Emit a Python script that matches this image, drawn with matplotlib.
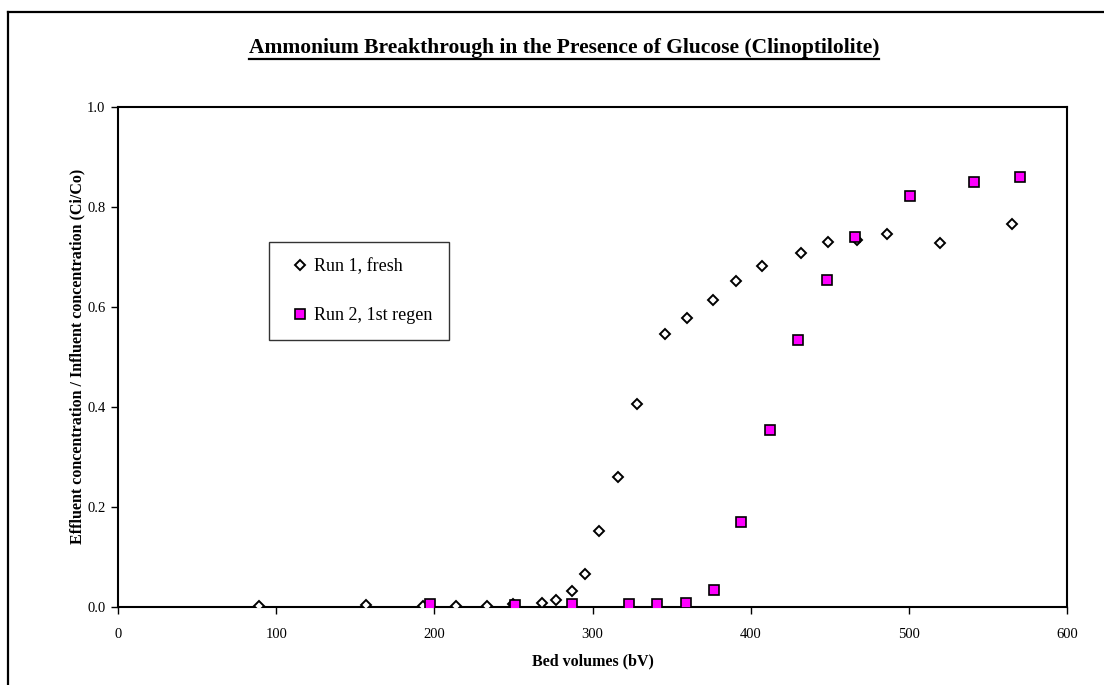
import matplotlib
matplotlib.use("Agg")
import matplotlib.pyplot as plt
from matplotlib.lines import Line2D

# ---- data ----
run1_bv = [89, 157, 193, 214, 233, 250, 268, 277, 287, 295, 304, 316, 328, 346,
           360, 376, 391, 407, 432, 449, 467, 486, 520, 565]
run1_c = [0.002, 0.004, 0.002, 0.001, 0.002, 0.005, 0.007, 0.013, 0.032, 0.065,
          0.151, 0.260, 0.405, 0.545, 0.578, 0.614, 0.651, 0.682, 0.707, 0.729,
          0.734, 0.746, 0.727, 0.766]
run2_bv = [197, 251, 287, 323, 341, 359, 377, 394, 412, 430, 448, 466, 501, 541, 570]
run2_c = [0.005, 0.004, 0.005, 0.005, 0.005, 0.008, 0.034, 0.169, 0.354, 0.534,
          0.653, 0.740, 0.822, 0.849, 0.859]

series_labels = ["Run 1, fresh", "Run 2, 1st regen"]
title = "Ammonium Breakthrough in the Presence of Glucose (Clinoptilolite)"
xlabel = "Bed volumes (bV)"
ylabel = "Effluent concentration / Influent concentration (Ci/Co)"
xticks = [0, 100, 200, 300, 400, 500, 600]
yticks = [0.0, 0.2, 0.4, 0.6, 0.8, 1.0]

W, H = 1104, 685
plt.rcParams['font.family'] = ['Liberation Serif', 'DejaVu Serif']
fig = plt.figure(figsize=(W / 100, H / 100), dpi=100)
ax = fig.add_axes([118 / W, 1 - 607 / H, (1067 - 118) / W, (607 - 106.5) / H])

ax.plot(run1_bv, run1_c, linestyle='none', marker='D', markersize=5.0,
        markerfacecolor='white', markeredgecolor='black', markeredgewidth=1.4,
        label=series_labels[0], zorder=3)
ax.plot(run2_bv, run2_c, linestyle='none', marker='s', markersize=6.5,
        markerfacecolor='#FF00FF', markeredgecolor='black', markeredgewidth=1.2,
        label=series_labels[1], zorder=4)

ax.set_xlim(0, 600)
ax.set_ylim(0, 1.0)
ax.set_xticks(xticks)
ax.set_xticklabels([str(v) for v in xticks])
ax.set_yticks(yticks)
ax.set_yticklabels([f"{v:.1f}" for v in yticks])
ax.tick_params(direction='out', length=5, width=1, labelsize=10.5, colors='black')
ax.tick_params(axis='y', pad=4)
ax.tick_params(axis='x', pad=10)
for s in ax.spines.values():
    s.set_linewidth(1.5)
    s.set_color('black')

ax.set_xlabel(xlabel, fontsize=11.5, fontweight='bold', labelpad=9)
ax.set_ylabel(ylabel, fontsize=11.5, fontweight='bold', labelpad=1)

leg = ax.legend(loc='upper left', bbox_to_anchor=((269 - 118) / (1067 - 118), (607 - 242) / (607 - 106.5)),
                frameon=True, fancybox=False, edgecolor='black', fontsize=13,
                handletextpad=0.0, handlelength=1.6, labelspacing=1.75,
                borderpad=0.9, borderaxespad=0)
leg.get_frame().set_linewidth(1.0)

t = fig.text(0.5 * (248 + 880) / W, 1 - 48 / H, title, ha='center', va='center',
             fontsize=15.5, fontweight='bold')

# outer border (left and top visible)
fig.add_artist(Line2D([8 / W, 8 / W], [0, 1 - 12 / H], transform=fig.transFigure,
                      color='black', linewidth=1.6))
fig.add_artist(Line2D([8 / W, 1], [1 - 12 / H, 1 - 12 / H], transform=fig.transFigure,
                      color='black', linewidth=1.6))

# underline the title
fig.canvas.draw()
bb = t.get_window_extent(renderer=fig.canvas.get_renderer())
yl = (bb.y0 - 0.5) / H
fig.add_artist(Line2D([bb.x0 / W, bb.x1 / W], [yl, yl], transform=fig.transFigure,
                      color='black', linewidth=1.6))

fig.savefig("out.png", dpi=100)
